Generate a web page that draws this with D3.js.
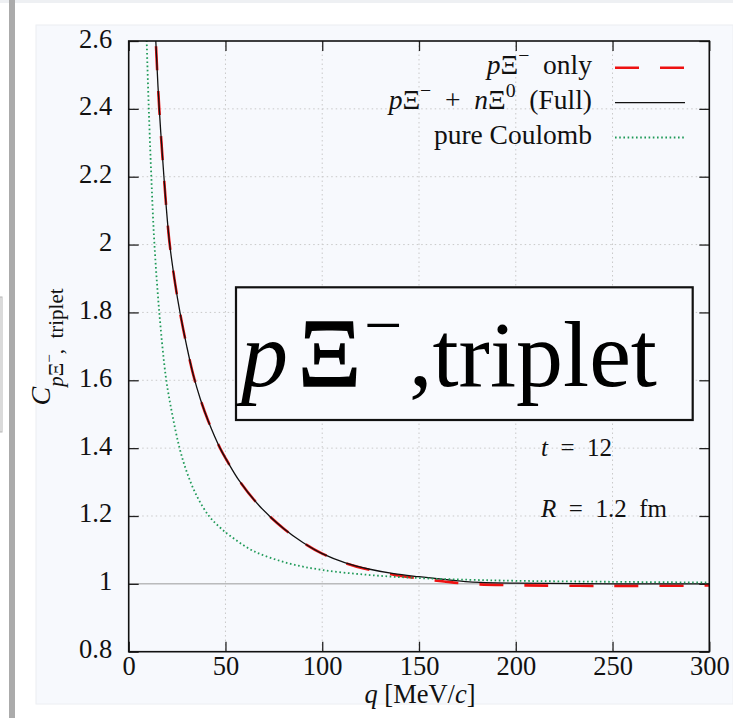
<!DOCTYPE html>
<html>
<head>
<meta charset="utf-8">
<script src="https://cdn.jsdelivr.net/npm/d3@7"></script>
<style>
  html, body { margin: 0; padding: 0; background: #fff; }
  svg { display: block; font-family: "Liberation Serif", "DejaVu Serif", serif; }
</style>
</head>
<body>
<svg width="733" height="718"></svg>
<script>
// Values
const fullQ = [12.5, 14, 15.8, 18.2, 21, 24, 26.5, 30, 33.4, 37, 41.1, 47.2, 50.6, 57, 67.8, 80, 90, 100, 112, 124.6, 137, 150, 163, 176, 200, 250, 300];
const fullC = [2.85, 2.6, 2.4, 2.2, 2.01, 1.885, 1.80, 1.70, 1.615, 1.545, 1.48, 1.40, 1.365, 1.305, 1.228, 1.163, 1.122, 1.089, 1.062, 1.043, 1.030, 1.021, 1.013, 1.006, 1.002, 1.0, 1.0];

const onlyQ = [12.5, 14, 15.8, 18.2, 21, 24, 26.5, 30, 33.4, 37, 41.1, 47.2, 50.6, 57, 67.8, 80, 90, 100, 112, 124.6, 137, 150, 163, 176, 200, 250, 300];
const onlyC = [2.85, 2.6, 2.4, 2.2, 2.01, 1.885, 1.80, 1.70, 1.615, 1.545, 1.48, 1.40, 1.365, 1.305, 1.228, 1.163, 1.122, 1.089, 1.061, 1.041, 1.027, 1.016, 1.007, 1.0, 0.996, 0.994, 0.995];

const coulQ = [8.6, 9.3, 10.5, 11.9, 13.2, 15.8, 19.3, 22.5, 26.2, 30, 35, 41.6, 47.2, 52.3, 64.4, 81.6, 100, 124.6, 150, 176, 200, 250, 300];
const coulC = [2.75, 2.6, 2.38, 2.17, 2.01, 1.80, 1.605, 1.50, 1.402, 1.33, 1.261, 1.199, 1.166, 1.142, 1.097, 1.062, 1.041, 1.026, 1.017, 1.012, 1.009, 1.006, 1.004];

const xTicks = [0, 50, 100, 150, 200, 250, 300];
const yTicks = [0.8, 1, 1.2, 1.4, 1.6, 1.8, 2, 2.2, 2.4, 2.6];

const svg = d3.select("svg");

// page furniture around the plot (screenshot frame)
svg.append("rect").attr("x", 0).attr("y", 0).attr("width", 733).attr("height", 3).attr("fill", "#eef0f3");
svg.append("rect").attr("x", 9).attr("y", 0).attr("width", 6).attr("height", 718).attr("fill", "#ababab");
svg.append("rect").attr("x", 0).attr("y", 297).attr("width", 2).attr("height", 135).attr("fill", "none").attr("stroke", "#b5b5b5");
svg.append("rect").attr("x", 36).attr("y", 25).attr("width", 697).attr("height", 679)
    .attr("fill", "#f7f9fd").attr("stroke", "#eceef2");

const x = d3.scaleLinear().domain([0, 300]).range([128.7, 709.3]);
const y = d3.scaleLinear().domain([0.8, 2.6]).range([651.7, 41]);

const pLeft = x.range()[0], pRight = x.range()[1], pTop = y.range()[1], pBottom = y.range()[0];

// grid
const grid = svg.append("g").attr("stroke", "#c9c9c9").attr("stroke-width", 1).attr("stroke-dasharray", "1.5,3");
grid.selectAll(".gx").data(xTicks.slice(1, -1)).join("line")
    .attr("x1", d => x(d)).attr("x2", d => x(d)).attr("y1", pTop).attr("y2", pBottom);
grid.selectAll(".gy").data(yTicks.slice(1, -1).filter(d => d !== 1)).join("line")
    .attr("x1", pLeft).attr("x2", pRight).attr("y1", d => y(d)).attr("y2", d => y(d));

// C = 1 reference line
svg.append("line").attr("x1", pLeft).attr("x2", pRight).attr("y1", y(1)).attr("y2", y(1))
    .attr("stroke", "#9a9a9a").attr("stroke-width", 1);

// axes (inward ticks on all four sides)
const fmt = d => String(d);
const bx = svg.append("g").attr("transform", `translate(0,${pBottom})`)
    .call(d3.axisBottom(x).tickValues(xTicks).tickSize(-10).tickFormat(fmt));
bx.selectAll("text").attr("y", 23).attr("dy", null);
const ly = svg.append("g").attr("transform", `translate(${pLeft},0)`)
    .call(d3.axisLeft(y).tickValues(yTicks).tickSize(-10).tickFormat(fmt));
ly.selectAll("text").attr("x", -16.5).attr("dy", 6);
svg.append("g").attr("transform", `translate(0,${pTop})`)
    .call(d3.axisTop(x).tickValues(xTicks).tickSize(-10).tickFormat(""));
svg.append("g").attr("transform", `translate(${pRight},0)`)
    .call(d3.axisRight(y).tickValues(yTicks).tickSize(-10).tickFormat(""));
svg.selectAll(".domain").remove();
svg.selectAll(".tick line").attr("stroke", "#222").attr("stroke-width", 1.3);
svg.selectAll(".tick text").attr("font-size", 26.5).attr("fill", "#111")
    .attr("font-family", "'Liberation Serif', serif");

// curves
svg.append("clipPath").attr("id", "clip").append("rect")
    .attr("x", pLeft).attr("y", pTop).attr("width", pRight - pLeft).attr("height", pBottom - pTop);

const line = d3.line().x(d => x(d[0])).y(d => y(d[1])).curve(d3.curveCatmullRom.alpha(0.5));
const plot = svg.append("g").attr("clip-path", "url(#clip)");

plot.append("path").datum(d3.zip(onlyQ, onlyC))
    .attr("fill", "none").attr("stroke", "#ee1111").attr("stroke-width", 2.6)
    .attr("stroke-dasharray", "24,21").attr("d", line);
plot.append("path").datum(d3.zip(fullQ, fullC))
    .attr("fill", "none").attr("stroke", "#111").attr("stroke-width", 1.3).attr("d", line);
plot.append("path").datum(d3.zip(coulQ, coulC))
    .attr("fill", "none").attr("stroke", "#1f9a58").attr("stroke-width", 1.8)
    .attr("stroke-dasharray", "1.6,2.6").attr("d", line);

// frame
svg.append("rect").attr("x", pLeft).attr("y", pTop).attr("width", pRight - pLeft).attr("height", pBottom - pTop)
    .attr("fill", "none").attr("stroke", "#111").attr("stroke-width", 1.6);

// legend
const legend = [
  {parts: [["p", "italic"], ["Ξ"], ["−", "sup"], ["\u2002only"]], stroke: "#ee1111", width: 2.6, dash: "24,21"},
  {parts: [["p", "italic"], ["Ξ"], ["−", "sup"], ["\u2002+\u2002"], ["n", "italic"], ["Ξ"], ["0", "sup"], ["\u2002(Full)"]], stroke: "#111", width: 1.3, dash: null},
  {parts: [["pure Coulomb"]], stroke: "#1f9a58", width: 1.8, dash: "1.6,2.6"}
];
const legendY = [67.7, 102.7, 137.5];

function richText(sel, parts, size) {
  parts.forEach(([t, style]) => {
    const ts = sel.append("tspan").text(t);
    if (style === "italic") ts.attr("font-style", "italic");
    if (style === "sup") ts.attr("font-size", size * 0.72).attr("baseline-shift", size * 0.42);
  });
}

legend.forEach((d, i) => {
  const t = svg.append("text").attr("x", 592).attr("y", legendY[i] + 6.5)
      .attr("text-anchor", "end").attr("font-size", 27.5).attr("fill", "#111");
  richText(t, d.parts, 27.5);
  svg.append("line").attr("x1", 615).attr("x2", 685).attr("y1", legendY[i]).attr("y2", legendY[i])
      .attr("stroke", d.stroke).attr("stroke-width", d.width).attr("stroke-dasharray", d.dash);
});

// x label
const xl = svg.append("text").attr("x", 420).attr("y", 703).attr("text-anchor", "middle")
    .attr("font-size", 26.5).attr("fill", "#111");
richText(xl, [["q", "italic"], [" [MeV/"], ["c", "italic"], ["]"]], 26.5);

// y label
const yl = svg.append("text").attr("transform", "translate(50,347) rotate(-90)")
    .attr("text-anchor", "middle").attr("font-size", 28).attr("fill", "#111");
yl.append("tspan").attr("font-style", "italic").text("C");
yl.append("tspan").attr("font-size", 21).attr("dy", 13).attr("font-style", "italic").text("p");
yl.append("tspan").attr("font-size", 21).text("Ξ");
yl.append("tspan").attr("font-size", 15).attr("dy", -9).text("−");
yl.append("tspan").attr("font-size", 21).attr("dy", 9).text(",\u2002triplet");

// big boxed label
svg.append("rect").attr("x", 236).attr("y", 287.3).attr("width", 456.7).attr("height", 132.7)
    .attr("fill", "#f9fafe").attr("stroke", "#111").attr("stroke-width", 2.2);
const big = svg.append("text").attr("y", 386).attr("font-size", 94).attr("fill", "#000");
big.append("tspan").attr("x", 241).attr("font-style", "italic").text("p");
big.append("tspan").attr("x", 298).attr("font-size", 98).attr("stroke", "#000").attr("stroke-width", 1.5).text("Ξ");
big.append("tspan").attr("x", 364).attr("font-size", 68).attr("dy", -38).text("−");
big.append("tspan").attr("x", 409).attr("dy", 38).text(",triplet");

// parameters
svg.append("text").attr("x", 541).attr("y", 456).attr("font-size", 25).attr("fill", "#111")
  .call(t => richText(t, [["t", "italic"], ["\u2002=\u200212"]], 25));
svg.append("text").attr("x", 541).attr("y", 517).attr("font-size", 25).attr("fill", "#111")
  .call(t => richText(t, [["R", "italic"], ["\u2002=\u20021.2\u2002fm"]], 25));
</script>
</body>
</html>
